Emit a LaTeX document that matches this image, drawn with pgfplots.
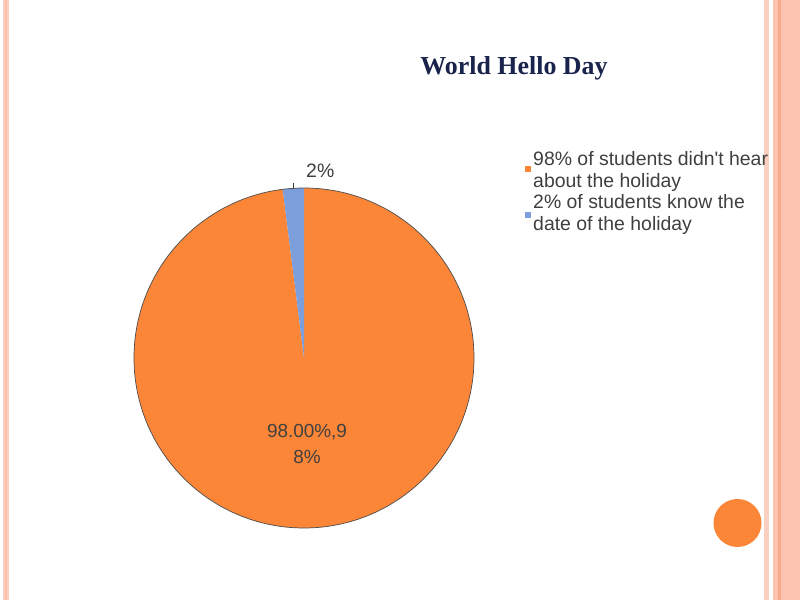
\documentclass[border=0pt]{standalone}
\usepackage{pgfplots}
\usepackage{pgfplotstable}
\pgfplotsset{compat=1.18}
\usepackage{fontspec}
\setmainfont{Liberation Sans}
\newfontfamily\plainfont{Liberation Sans}
\newfontfamily\titlefont{Liberation Serif}
\definecolor{pieorange}{RGB}{252,134,56}
\definecolor{pieblue}{RGB}{124,158,218}
\definecolor{titleblue}{RGB}{25,35,75}
\definecolor{txtgray}{RGB}{64,64,64}
\definecolor{stripeA}{RGB}{252,208,192}
\definecolor{stripeB}{RGB}{252,196,176}
\definecolor{stripeC}{RGB}{246,170,135}
\pgfplotstableread{
label share
know 2
didnt 98
}\piedata
\begin{document}
\begin{tikzpicture}
\pgfplotstablegetelem{0}{share}\of\piedata \let\blueshare\pgfplotsretval
\pgfplotstablegetelem{1}{share}\of\piedata \let\orangeshare\pgfplotsretval
\pgfmathsetmacro\bend{90+3.6*\blueshare}
\pgfmathsetmacro\oend{\bend+3.6*\orangeshare}
\begin{axis}[
  width=800bp, height=600bp, scale only axis,
  xmin=0, xmax=800, ymin=0, ymax=600,
  hide axis, clip=false,
]
% background
\fill[white] (axis cs:0,0) rectangle (axis cs:800,600);
% slide decorations
\fill[stripeA] (axis cs:3,0) rectangle (axis cs:9,600);
\fill[stripeB!80!stripeC] (axis cs:5,0) rectangle (axis cs:7,600);
\fill[stripeA] (axis cs:764,0) rectangle (axis cs:769,600);
\fill[stripeB] (axis cs:773,0) rectangle (axis cs:800,600);
\fill[stripeC] (axis cs:778,0) rectangle (axis cs:781,600);
\fill[stripeA!70!stripeC] (axis cs:786,0) rectangle (axis cs:788,600);
\fill[pieorange] (axis cs:737.5,77) circle[radius=24bp];
% pie
\fill[pieorange] (axis cs:304,242) -- ++(\bend:170bp) arc[start angle=\bend, end angle=\oend, radius=170bp] -- cycle;
\fill[pieblue] (axis cs:304,242) -- ++(90:170bp) arc[start angle=90, end angle=\bend, radius=170bp] -- cycle;
\draw[black!70, line width=0.7bp] (axis cs:304,242) circle[radius=170bp];
% data labels
\draw[txtgray, line width=0.6bp] (axis cs:293,417) -- (axis cs:293,411);
\node[anchor=base west, inner sep=0, text=txtgray, font=\fontsize{19.5}{22}\selectfont] at (axis cs:306,422) {2\%};
\node[anchor=base, inner sep=0, text=txtgray, font=\fontsize{19}{22}\selectfont] at (axis cs:307,162.5) {98.00\%,9};
\node[anchor=base, inner sep=0, text=txtgray, font=\fontsize{19}{22}\selectfont] at (axis cs:307,136) {8\%};
% title
\node[anchor=center, inner sep=0, text=titleblue, font=\titlefont\bfseries\fontsize{26}{30}\selectfont] at (axis cs:514,532) {World Hello Day};
% legend
\fill[pieorange] (axis cs:525,434) rectangle (axis cs:531,428);
\fill[pieblue] (axis cs:525,388) rectangle (axis cs:531,382);
\node[anchor=base west, inner sep=0, text=txtgray, font=\plainfont\fontsize{19.5}{22}\selectfont] at (axis cs:533,434) {98\% of students didn't hear};
\node[anchor=base west, inner sep=0, text=txtgray, font=\fontsize{19.5}{22}\selectfont] at (axis cs:533,412) {about the holiday};
\node[anchor=base west, inner sep=0, text=txtgray, font=\fontsize{19.5}{22}\selectfont] at (axis cs:533,391) {2\% of students know the};
\node[anchor=base west, inner sep=0, text=txtgray, font=\fontsize{19.5}{22}\selectfont] at (axis cs:533,369) {date of the holiday};
\end{axis}
\end{tikzpicture}
\end{document}
